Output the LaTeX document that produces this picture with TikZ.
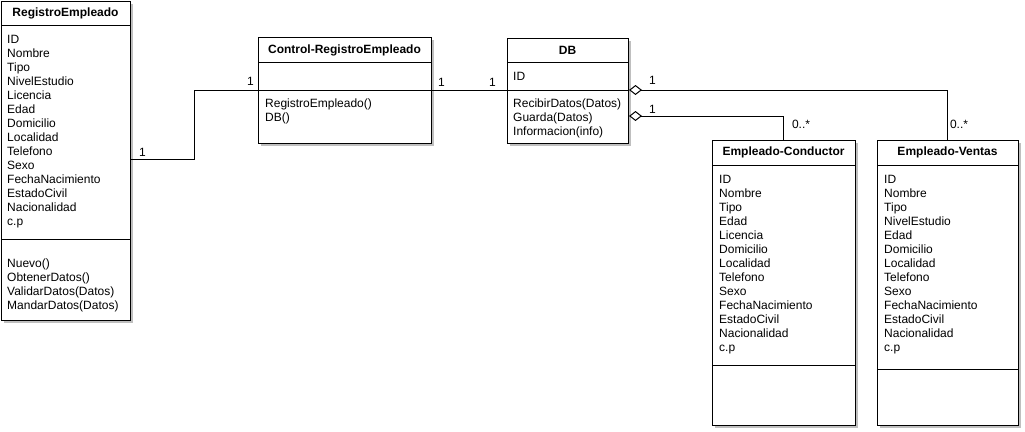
\documentclass[tikz,border=0pt]{standalone}
\usepackage{fontspec}
\setmainfont{Liberation Sans}
\usetikzlibrary{shadows,arrows.meta,calc}
\begin{document}
\begin{tikzpicture}[x=1pt,y=-1pt,
  classbox/.style={draw=black,line width=1pt,fill=white,anchor=north west,inner sep=0pt,
    drop shadow={shadow xshift=2pt,shadow yshift=-2pt,opacity=0.25,fill=black}},
  hdr/.style={font=\fontsize{12}{14}\selectfont\bfseries,inner sep=0pt,anchor=center},
  txt/.style={font=\fontsize{12}{14}\selectfont,inner sep=0pt,anchor=base west},
  mult/.style={font=\fontsize{12}{14}\selectfont,inner sep=0pt,anchor=center},
  sep/.style={line width=1pt},
  conn/.style={line width=1pt},
  agg/.style={line width=1pt,{Diamond[open,length=13pt,width=10pt,line width=1pt]}-}]
\useasboundingbox (0,0) rectangle (1025,431);
% RegistroEmpleado
\node[classbox,minimum width=129pt,minimum height=319pt] (re) at (1,1) {};
\draw[sep] (1,25) -- (130,25);
\draw[sep] (1,239) -- (130,239);
\node[hdr] (reh) at (65.5,13) {RegistroEmpleado};
\foreach \t [count=\i from 0] in {ID,Nombre,Tipo,NivelEstudio,Licencia,Edad,Domicilio,Localidad,Telefono,Sexo,FechaNacimiento,EstadoCivil,Nacionalidad,c.p}
  \node[txt] (rea\i) at (7,43.5+14*\i) {\t};
\foreach \t [count=\i from 0] in {Nuevo(),ObtenerDatos(),ValidarDatos(Datos),MandarDatos(Datos)}
  \node[txt] (rem\i) at (7,267.5+14*\i) {\t};
% Control
\node[classbox,minimum width=173pt,minimum height=106pt] (ctl) at (258,37) {};
\draw[sep] (258,62) -- (431,62);
\draw[sep] (258,90) -- (431,90);
\node[hdr] (ctlh) at (344.5,50) {Control-RegistroEmpleado};
\node[txt] (ctlm0) at (265,107.5) {RegistroEmpleado()};
\node[txt] (ctlm1) at (265,121.5) {DB()};
% DB
\node[classbox,minimum width=121pt,minimum height=105pt] (db) at (507,38) {};
\draw[sep] (507,62) -- (628,62);
\draw[sep] (507,90) -- (628,90);
\node[hdr] (dbh) at (567.5,50) {DB};
\node[txt] (dba0) at (513,80.5) {ID};
\foreach \t [count=\i from 0] in {RecibirDatos(Datos),Guarda(Datos),Informacion(info)}
  \node[txt] (dbm\i) at (513,107.5+14*\i) {\t};
% Empleado-Conductor
\node[classbox,minimum width=143pt,minimum height=285pt] (ec) at (712,140) {};
\draw[sep] (712,165) -- (855,165);
\draw[sep] (712,365) -- (855,365);
\node[hdr] (ech) at (783.5,152.5) {Empleado-Conductor};
\foreach \t [count=\i from 0] in {ID,Nombre,Tipo,Edad,Licencia,Domicilio,Localidad,Telefono,Sexo,FechaNacimiento,EstadoCivil,Nacionalidad,c.p}
  \node[txt] (eca\i) at (719,183.5+14*\i) {\t};
% Empleado-Ventas
\node[classbox,minimum width=141pt,minimum height=285pt] (ev) at (877,140) {};
\draw[sep] (877,165) -- (1018,165);
\draw[sep] (877,369) -- (1018,369);
\node[hdr] (evh) at (947.5,152.5) {Empleado-Ventas};
\foreach \t [count=\i from 0] in {ID,Nombre,Tipo,NivelEstudio,Edad,Domicilio,Localidad,Telefono,Sexo,FechaNacimiento,EstadoCivil,Nacionalidad,c.p}
  \node[txt] (eva\i) at (884,183.5+14*\i) {\t};
% connectors
\draw[conn] (re.east |- 0,159) -- (194,159) -- (194,90) -- (ctl.west |- 0,90);
\draw[conn] (ctl.east |- 0,90) -- (db.west |- 0,90);
\draw[agg] (db.east |- 0,90) -- (947.5,90) -- (ev.north -| 947.5,0);
\draw[agg] (db.east |- 0,116) -- (783.5,116) -- (ec.north -| 783.5,0);
% multiplicities
\node[mult] (m1) at (142.5,152) {1};
\node[mult] (m2) at (250.5,81) {1};
\node[mult] (m3) at (441.5,82) {1};
\node[mult] (m4) at (492.5,82) {1};
\node[mult] (m5) at (652.5,80) {1};
\node[mult] (m6) at (652.5,109) {1};
\node[mult] (m7) at (801,124) {0..*};
\node[mult] (m8) at (959,124) {0..*};
\end{tikzpicture}
\end{document}
